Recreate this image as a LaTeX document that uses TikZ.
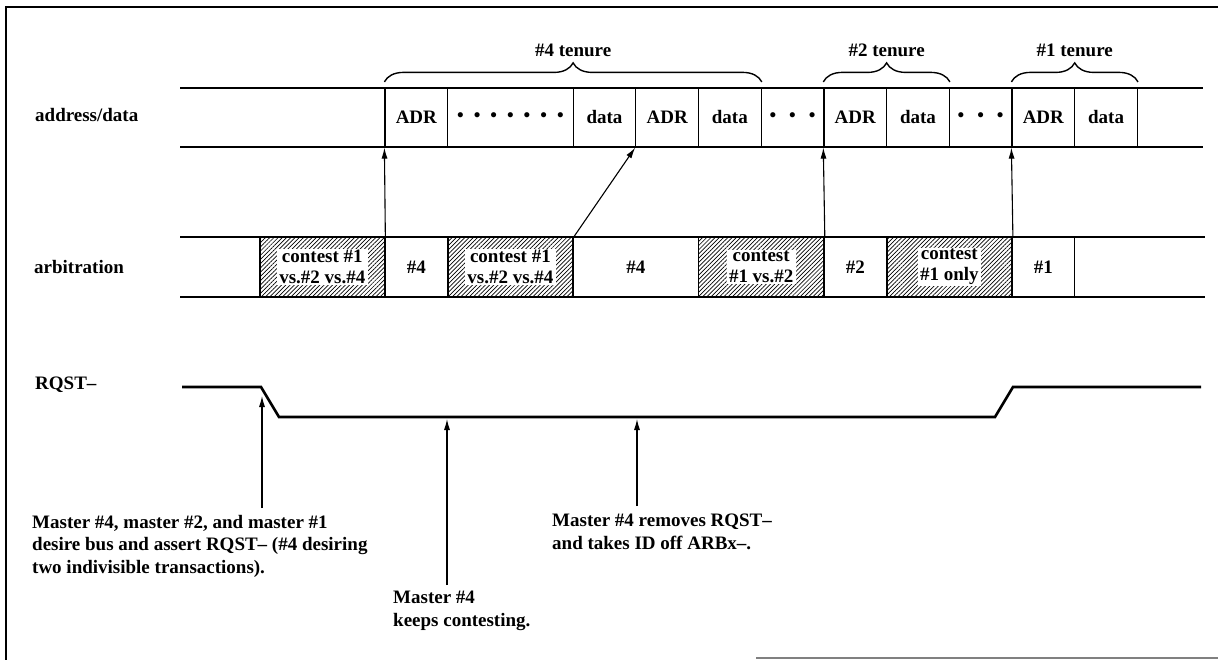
\documentclass[tikz,border=0pt]{standalone}
\usepackage{fontspec}
\setmainfont{Liberation Serif}
\usepackage{tikz}
\usetikzlibrary{arrows.meta,decorations.pathreplacing,patterns.meta,calc}

\begin{document}
\begin{tikzpicture}[x=1pt,y=-1pt,
  every node/.style={font=\bfseries\fontsize{19}{21}\selectfont},
  bus/.style={line width=2.6pt},
  cell/.style={draw,line width=1.2pt,inner sep=0pt,minimum width=62.7pt,minimum height=59pt},
  wide/.style={cell,minimum width=125.4pt},
  hatch/.style={wide,line width=1.8pt,pattern={Lines[angle=45,distance=3pt,line width=0.7pt]}},
  blank/.style={fill=white,inner xsep=2.5pt,inner ysep=1.5pt,align=center},
  arr/.style={-{Latex[length=11pt,width=6pt]},line width=1.1pt},
  brc/.style={decorate,decoration={brace,amplitude=19pt,raise=5.5pt},line width=1.4pt},
  note/.style={align=left,anchor=north west,inner sep=0pt,font=\bfseries\fontsize{19}{22.5}\selectfont},
  row/.style={anchor=west,inner sep=0pt}
]
\useasboundingbox (0,0) rectangle (1218,660);
% frame
\draw[line width=1.3pt] (1218,7) -- (6,7) -- (6,660);
\draw[gray,line width=1.3pt] (756,658) -- (1218,658);

% row labels
\node[row] (lad) at (35,115) {address/data};
\node[row] (lar) at (34,267) {arbitration};
\node[row] (lrq) at (35,385) {RQST--};

% address/data cells
\node[cell] (a1)  at (416.35,117.5) {ADR};
\node[wide] (a2)  at (510.4,117.5)  {\textbullet\hspace{10pt}\textbullet\hspace{10pt}\textbullet\hspace{10pt}\textbullet\hspace{10pt}\textbullet\hspace{10pt}\textbullet\hspace{10pt}\textbullet};
\node[cell] (a3)  at (604.45,117.5) {data};
\node[cell] (a4)  at (667.15,117.5) {ADR};
\node[cell] (a5)  at (729.85,117.5) {data};
\node[cell] (a6)  at (792.55,117.5) {\textbullet\hspace{13pt}\textbullet\hspace{13pt}\textbullet};
\node[cell] (a7)  at (855.25,117.5) {ADR};
\node[cell] (a8)  at (917.95,117.5) {data};
\node[cell] (a9)  at (980.65,117.5) {\textbullet\hspace{13pt}\textbullet\hspace{13pt}\textbullet};
\node[cell] (a10) at (1043.35,117.5) {ADR};
\node[cell] (a11) at (1106.05,117.5) {data};
\draw[bus] (180,88) -- (1203,88);
\draw[bus] (180,147) -- (1203,147);

% tenures
\draw[brc] (a1.north west) -- (a5.north east) node[midway,above=27pt] (t4) {\#4 tenure};
\draw[brc] (a7.north west) -- (a8.north east) node[midway,above=27pt] (t2) {\#2 tenure};
\draw[brc] (a10.north west) -- (a11.north east) node[midway,above=27pt] (t1) {\#1 tenure};

% arbitration cells
\node[hatch] (b1) at (322.3,267) {};
\node[blank] (b1t) at (b1) {contest \#1\\vs.\#2 vs.\#4};
\node[cell]  (b2) at (416.35,267) {\#4};
\node[hatch] (b3) at (510.4,267) {};
\node[blank] (b3t) at (b3) {contest \#1\\vs.\#2 vs.\#4};
\node[wide]  (b4) at (635.8,267) {\#4};
\node[hatch] (b5) at (761.2,267) {};
\node[blank] (b5t) at (b5) {contest\\\#1 vs.\#2};
\node[cell]  (b6) at (855.25,267) {\#2};
\node[hatch] (b7) at (949.3,267) {};
\node[blank] (b7t) at (b7) {contest\\\#1 only};
\node[cell]  (b8) at (1043.35,267) {\#1};
\draw[bus] (180,237) -- (1205,237);
\draw[bus] (180,297) -- (1205,297);

% winners take the bus
\draw[arr] (b1.north east) -- (a1.south west);
\draw[arr] (b3.north east) -- (a4.south west);
\draw[arr] (b5.north east) -- (a7.south west);
\draw[arr] (b7.north east) -- (a10.south west);

% RQST- line
\draw[bus,line join=miter] (182,387) -- (261,387) -- (279,417) -- (995,417) -- (1013,387) -- (1201,387);
\coordinate (r1) at (262,396);
\coordinate (r2) at (447,419);
\coordinate (r3) at (637,419);

% notes
\node[note] (m1) at (32,515) {Master \#4, master \#2, and master \#1\\desire bus and assert RQST-- (\#4 desiring\\two indivisible transactions).};
\node[note] (m2) at (393,591) {Master \#4\\keeps contesting.};
\node[note] (m3) at (552,514) {Master \#4 removes RQST--\\and takes ID off ARBx--.};
\draw[arr] ($(m1.north -| r1)+(0,-7)$) -- (r1);
\draw[arr] ($(m2.north -| r2)+(0,-6)$) -- (r2);
\draw[arr] ($(m3.north -| r3)+(0,-8)$) -- (r3);
\end{tikzpicture}
\end{document}
